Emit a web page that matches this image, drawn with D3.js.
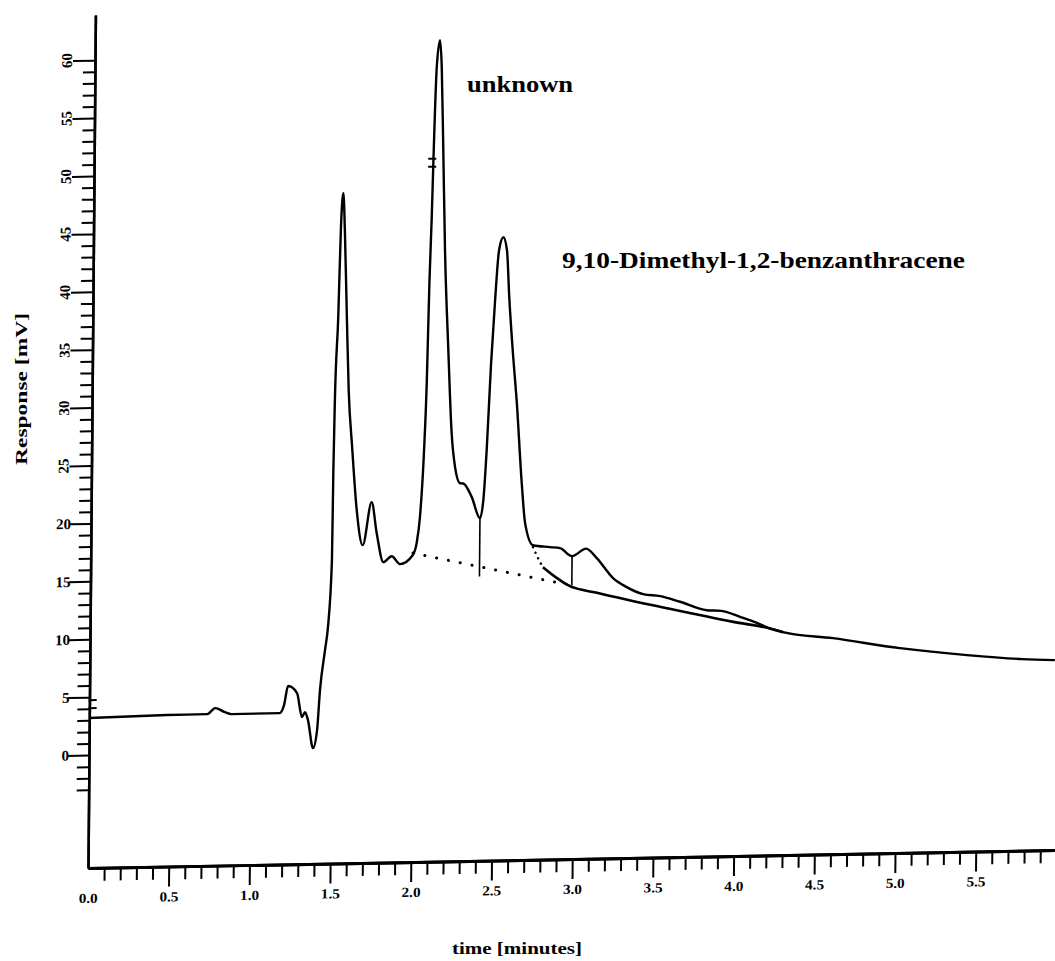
<!DOCTYPE html>
<html>
<head>
<meta charset="utf-8">
<script src="https://cdn.jsdelivr.net/npm/d3@7"></script>
<style>
	html, body { margin: 0; padding: 0; background: #fff; }
	svg { display: block; }
	text { font-family: "Liberation Serif", "Times New Roman", serif; font-weight: bold; fill: #000; }
</style>
</head>
<body>
<svg id="chromatogram" width="1055" height="961"></svg>
<script>
// detector trace: time [min] / response [mV]
var traceTime = [0.00, 0.48, 0.73, 0.78, 0.84, 0.88, 1.18, 1.206, 1.23, 1.286,
	1.318, 1.336, 1.355, 1.388, 1.412, 1.428, 1.457, 1.474, 1.495, 1.499,
	1.505, 1.521, 1.533, 1.546, 1.558, 1.574, 1.590, 1.614, 1.646, 1.685,
	1.738, 1.771, 1.814, 1.865, 1.917, 1.995, 2.019, 2.038, 2.060, 2.073,
	2.084, 2.095, 2.102, 2.118, 2.137, 2.149, 2.163, 2.179, 2.205, 2.23,
	2.253, 2.285, 2.305, 2.358, 2.41, 2.43, 2.448, 2.47, 2.492, 2.514,
	2.54, 2.563, 2.58, 2.608, 2.631, 2.667, 2.69, 2.74, 2.846, 2.908,
	2.983, 3.069, 3.136, 3.238, 3.323, 3.425, 3.53, 3.654, 3.82, 3.913,
	4.027, 4.131, 4.213, 4.294, 4.604, 5.02, 5.436, 5.777, 5.98];
var traceMv = [3.2, 3.33, 3.35, 3.85, 3.49, 3.31, 3.32, 4.0, 5.64, 5.02,
	2.94, 3.36, 2.67, 0.24, 1.79, 5.24, 8.68, 10.66, 16.44, 24.21,
	30.51, 37.41, 45.18, 48.11, 44.66, 37.6, 31.0, 26.2, 20.72, 17.69,
	21.39, 18.7, 16.19, 16.69, 15.99, 16.74, 17.78, 20.01, 25.79, 31.57,
	40.2, 45.9, 50.55, 58.84, 61.16, 58.83, 51.66, 43.03, 34.39, 27.22,
	24.28, 22.88, 22.85, 21.66, 19.83, 21.38, 25.69, 33.0, 38.6, 42.94,
	44.05, 42.93, 38.8, 33.6, 29.96, 22.79, 19.33, 17.41, 17.22, 17.11,
	16.4, 17.03, 16.19, 14.44, 13.64, 13.01, 12.81, 12.29, 11.52, 11.44,
	10.89, 10.35, 9.84, 9.5, 8.9, 7.93, 7.22, 6.79, 6.65];

// integration baselines
var dottedBaseTime = [1.997, 2.91];
var dottedBaseMv = [16.92, 14.09];
var skimDotTime = [2.74, 2.785, 2.803];
var skimDotMv = [17.24, 15.94, 15.5];
var skimTime = [2.803, 2.891, 2.959, 3.158, 3.572, 3.986, 4.213, 4.294];
var skimMv = [15.5, 14.53, 13.9, 13.14, 11.76, 10.47, 9.84, 9.5];

// peak separation drop lines
var dropTime = [2.41, 2.983];
var dropTop = [19.83, 16.4];
var dropBottom = [14.8, 13.9];

// little marks on the trace (injection, retention time)
var markTime = [0.02, 2.095];
var markMv = [4.4, 50.6];

// axes
var xMajorTicks = [0, 0.5, 1, 1.5, 2, 2.5, 3, 3.5, 4, 4.5, 5, 5.5];
var yMajorTicks = [0, 5, 10, 15, 20, 25, 30, 35, 40, 45, 50, 55, 60];
var xLabel = 'time [minutes]';
var yLabel = 'Response  [mV]';
var peakNames = ['unknown', '9,10-Dimethyl-1,2-benzanthracene'];

var svg = d3.select('#chromatogram');

var x = d3.scaleLinear().domain([0, 6]).range([88, 1056.4]);
var y = d3.scaleLinear().domain([-9.75, 63.9]).range([868, 15]);

var xMinorTicks = d3.range(1, 60).map(d => d / 10).filter(d => Math.round(d * 10) % 5 !== 0);
var yMinorTicks = d3.range(-3, 60).filter(d => d % 5 !== 0);

// the scanned plot is slightly sheared; keep the axes corner fixed
var shX = -0.0087, shY = -0.0186,
	cornerX = x(0), cornerY = y(y.domain()[0]);
var plot = svg.append('g')
	.attr('transform', `matrix(1,${shY},${shX},1,${-shX * cornerY},${-shY * cornerX})`);

function styleAxis(g, w){
	g.attr('font-family', null).attr('font-size', null);
	g.select('.domain').attr('stroke-width', w);
	g.selectAll('.tick line').attr('stroke-width', 2);
}

//x axis
plot.append('g')
	.attr('transform', `translate(0,${cornerY})`)
	.call(d3.axisBottom(x).tickValues(xMinorTicks).tickSize(13).tickSizeOuter(0).tickFormat(''))
	.call(g => styleAxis(g, 3));

var xMajor = plot.append('g')
	.attr('transform', `translate(0,${cornerY})`)
	.call(d3.axisBottom(x).tickValues(xMajorTicks).tickSize(20).tickSizeOuter(0)
		.tickPadding(5).tickFormat(d3.format('.1f')))
	.call(g => styleAxis(g, 3));
xMajor.selectAll('.tick').filter(d => d === 0).select('line').remove();
xMajor.selectAll('.tick text')
	.attr('font-size', 14)
	.attr('textLength', 19)
	.attr('lengthAdjust', 'spacingAndGlyphs');

//y axis
plot.append('g')
	.attr('transform', `translate(${cornerX},0)`)
	.call(d3.axisLeft(y).tickValues(yMinorTicks).tickSize(12).tickSizeOuter(0).tickFormat(''))
	.call(g => styleAxis(g, 2.5));

plot.append('g')
	.attr('transform', `translate(${cornerX},0)`)
	.call(d3.axisLeft(y).tickValues(yMajorTicks).tickSize(22).tickSizeOuter(0).tickFormat(''))
	.call(g => styleAxis(g, 2.5));

// upper labels are turned on their side in the original, lower ones are not
plot.append('g')
	.selectAll('text')
	.data(yMajorTicks)
	.enter()
	.append('text')
	.attr('font-size', 15)
	.attr('text-anchor', d => d >= 25 ? 'middle' : 'end')
	.attr('dy', d => d >= 25 ? 0 : '0.35em')
	.attr('transform', function(d){
		return d >= 25
			? `translate(${cornerX - 23},${y(d)}) rotate(-90)`
			: `translate(${cornerX - 20},${y(d)})`;
	})
	.text(d => d);

//curves
var line = d3.line()
	.x(d => x(d[0]))
	.y(d => y(d[1]));

plot.append('path')
	.datum(d3.zip(dottedBaseTime, dottedBaseMv))
	.attr('d', line)
	.attr('fill', 'none')
	.attr('stroke', '#000')
	.attr('stroke-width', 3)
	.attr('stroke-linecap', 'round')
	.attr('stroke-dasharray', '0.1,12');

plot.append('path')
	.datum(d3.zip(skimDotTime, skimDotMv))
	.attr('d', line.curve(d3.curveMonotoneX))
	.attr('fill', 'none')
	.attr('stroke', '#000')
	.attr('stroke-width', 2.5)
	.attr('stroke-linecap', 'round')
	.attr('stroke-dasharray', '0.1,6');

plot.append('path')
	.datum(d3.zip(skimTime, skimMv))
	.attr('d', line.curve(d3.curveMonotoneX))
	.attr('fill', 'none')
	.attr('stroke', '#000')
	.attr('stroke-width', 2.6);

plot.append('path')
	.datum(d3.zip(traceTime, traceMv))
	.attr('d', line.curve(d3.curveMonotoneX))
	.attr('fill', 'none')
	.attr('stroke', '#000')
	.attr('stroke-width', 2.4)
	.attr('stroke-linejoin', 'round');

plot.append('g')
	.selectAll('line')
	.data(d3.range(dropTime.length))
	.enter()
	.append('line')
	.attr('x1', i => x(dropTime[i]))
	.attr('x2', i => x(dropTime[i]))
	.attr('y1', i => y(dropTop[i]))
	.attr('y2', i => y(dropBottom[i]))
	.attr('stroke', '#000')
	.attr('stroke-width', 1.6);

var marks = plot.append('g')
	.selectAll('g')
	.data(d3.range(markTime.length))
	.enter()
	.append('g')
	.attr('transform', i => `translate(${x(markTime[i])},${y(markMv[i])})`);
marks.append('path')
	.attr('d', 'M-4,-4H4M-4,4H4')
	.attr('stroke', '#000')
	.attr('stroke-width', 2);

//texts
svg.append('text')
	.attr('x', 467)
	.attr('y', 92)
	.attr('font-size', 23)
	.attr('textLength', 106)
	.attr('lengthAdjust', 'spacingAndGlyphs')
	.text(peakNames[0]);

svg.append('text')
	.attr('x', 562)
	.attr('y', 268)
	.attr('font-size', 23)
	.attr('textLength', 403)
	.attr('lengthAdjust', 'spacingAndGlyphs')
	.text(peakNames[1]);

svg.append('text')
	.attr('x', 452)
	.attr('y', 954)
	.attr('font-size', 17)
	.attr('textLength', 130)
	.attr('lengthAdjust', 'spacingAndGlyphs')
	.text(xLabel);

svg.append('text')
	.attr('transform', 'translate(27,389) rotate(-90)')
	.attr('text-anchor', 'middle')
	.attr('font-size', 17)
	.attr('textLength', 152)
	.attr('lengthAdjust', 'spacingAndGlyphs')
	.text(yLabel);
</script>
</body>
</html>
